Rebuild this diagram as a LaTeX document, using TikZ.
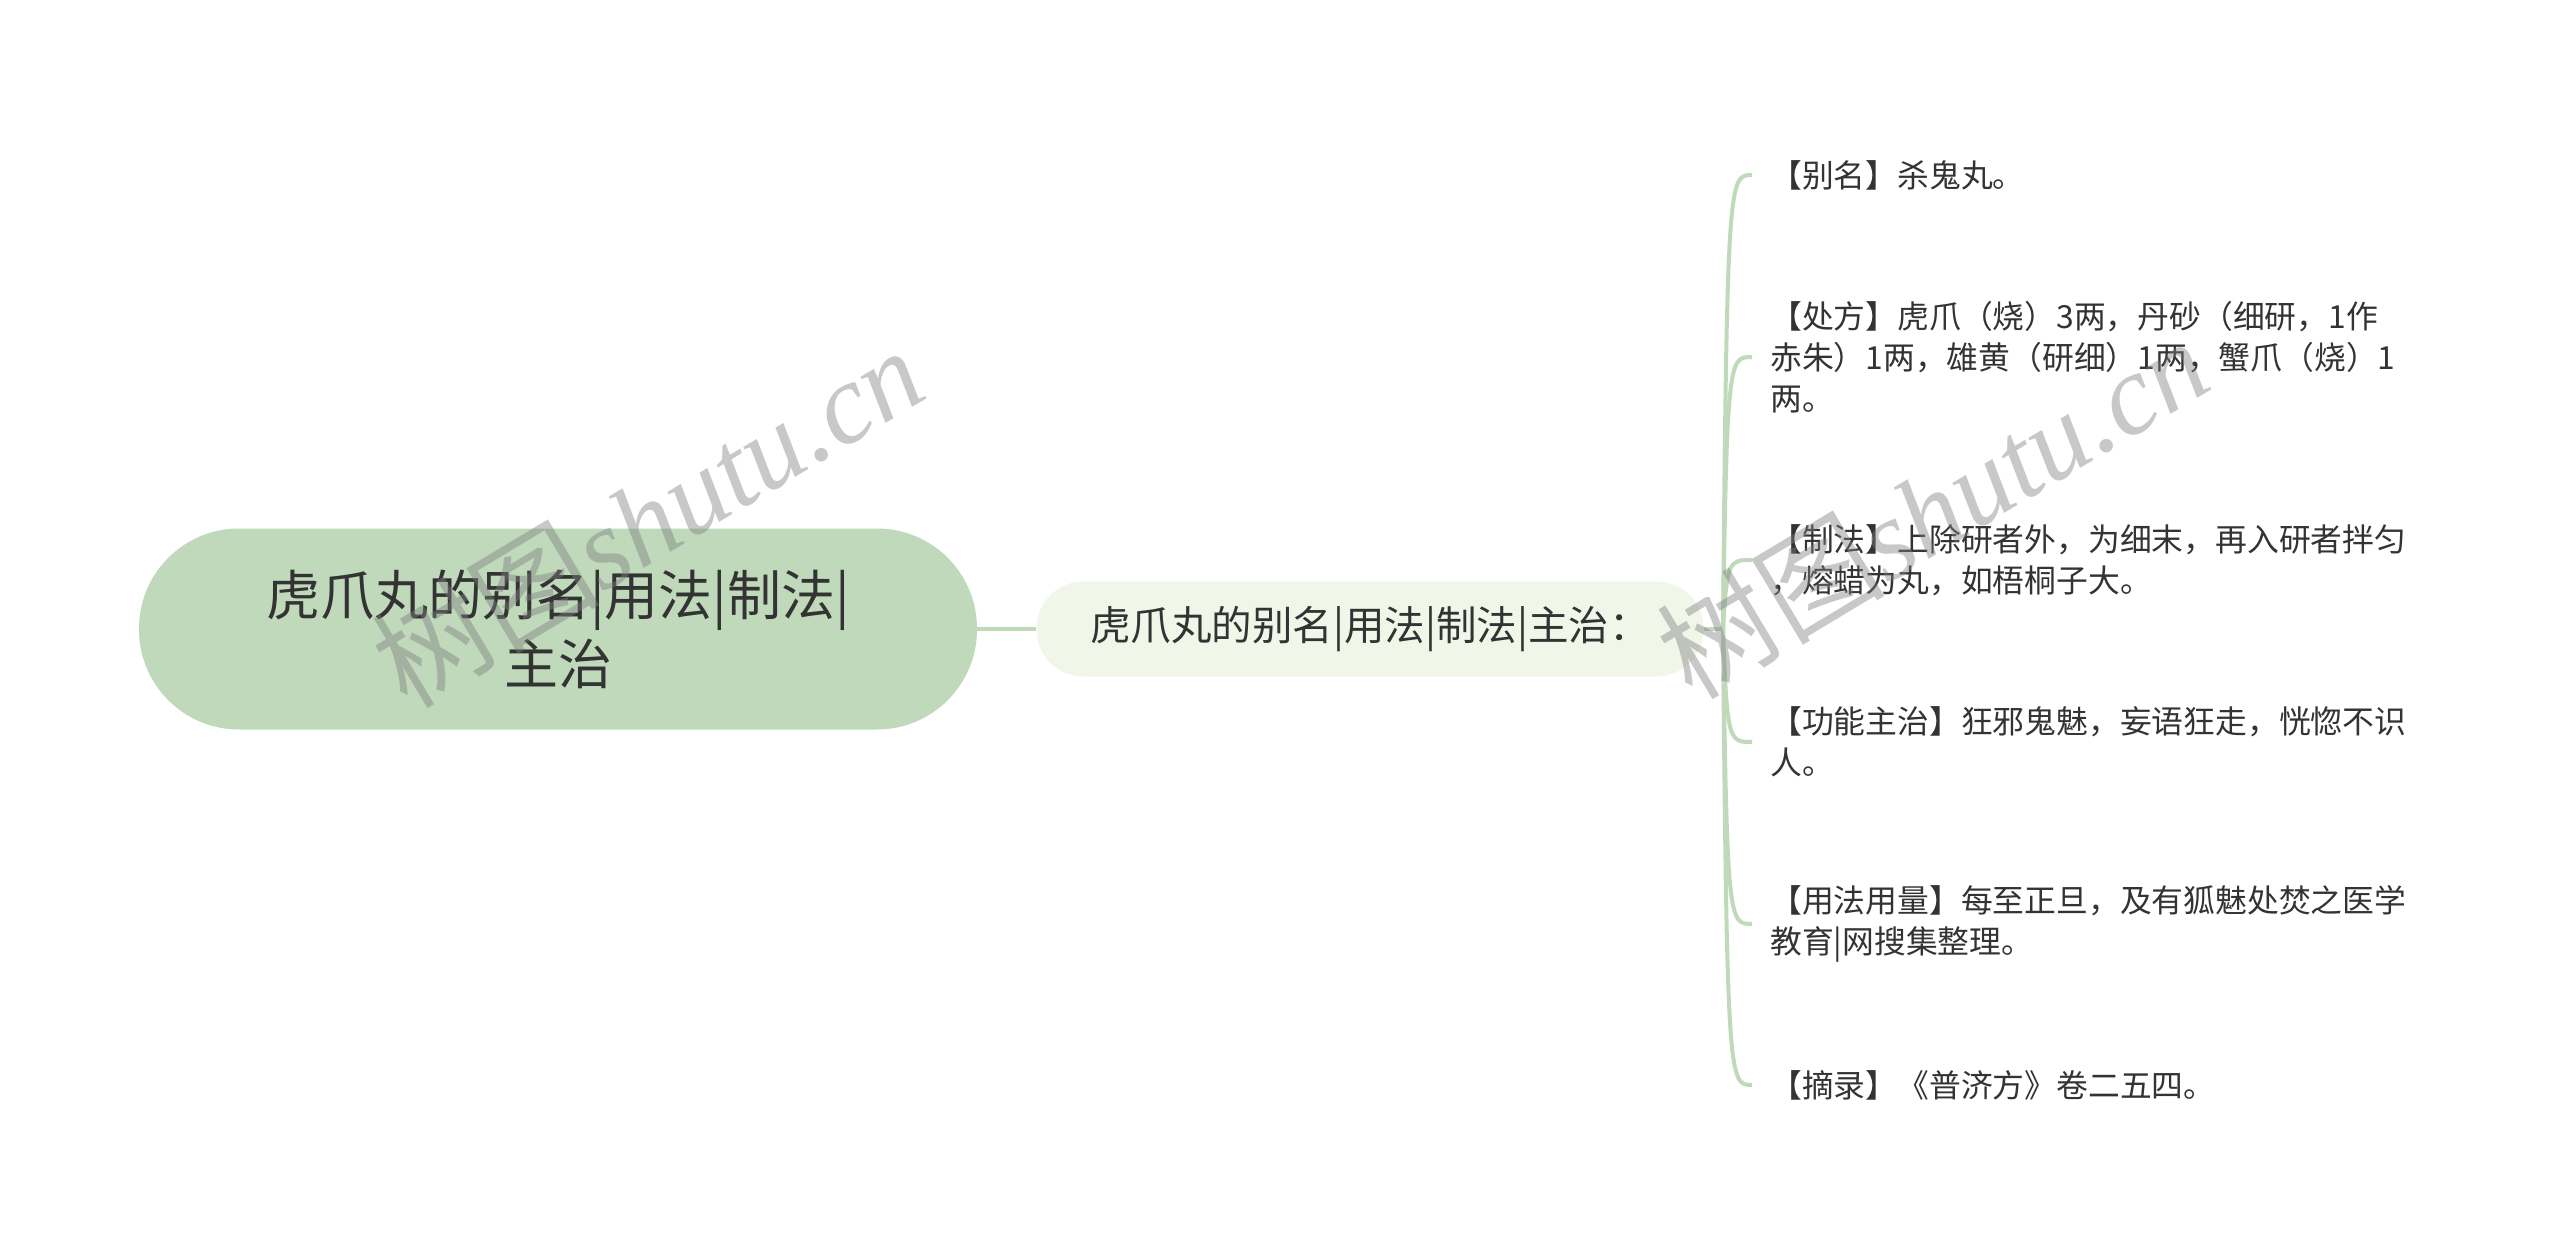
\documentclass[tikz,border=0pt]{standalone}
\usepackage{fontspec}
\setmainfont{Noto Sans CJK SC}
\newfontfamily\wmlatin{Liberation Serif}
\newfontfamily\wmcjk{Noto Sans CJK SC}
\definecolor{rootfill}{HTML}{BFD9BA}
\definecolor{linecol}{HTML}{BFD9BA}
\definecolor{childfill}{HTML}{F0F7E9}
\definecolor{txt}{HTML}{333333}
\begin{document}
\begin{tikzpicture}[x=1pt,y=-1pt,
  rootbox/.style={draw=none, fill=rootfill, rounded corners=100pt, minimum width=838pt, minimum height=201pt, inner sep=0pt, align=center, text=txt, font=\fontsize{54}{69}\selectfont},
  childbox/.style={draw=none, fill=childfill, rounded corners=47pt, minimum width=667pt, minimum height=95pt, inner sep=0pt, text=txt, font=\fontsize{40.5}{46}\selectfont},
  leafbox/.style={anchor=west, inner xsep=18pt, inner ysep=0pt, align=left, text=txt, font=\fontsize{31.8}{41}\selectfont},
  conn/.style={draw=linecol, line width=4pt},
  wm/.style={text=gray, opacity=0.43, font=\fontsize{114}{114}\selectfont}
]
\useasboundingbox (0,0) rectangle (2560,1257);
\fill[white] (0,0) rectangle (2560,1257);

\node[rootbox] (root) at (558,629) {虎爪丸的别名|用法|制法|\\主治};
\node[childbox] (child) at (1370,629) {虎爪丸的别名|用法|制法|主治：};

\coordinate (J) at (1723,629);

\node[leafbox] (l1) at (1752,175) {【别名】杀鬼丸。};
\node[leafbox] (l2) at (1752,357) {【处方】虎爪（烧）3两，丹砂（细研，1作\\赤朱）1两，雄黄（研细）1两，蟹爪（烧）1\\两。};
\node[leafbox] (l3) at (1752,560) {【制法】上除研者外，为细末，再入研者拌匀\\，熔蜡为丸，如梧桐子大。};
\node[leafbox] (l4) at (1752,742) {【功能主治】狂邪鬼魅，妄语狂走，恍惚不识\\人。};
\node[leafbox] (l5) at (1752,924) {【用法用量】每至正旦，及有狐魅处焚之医学\\教育|网搜集整理。};
\node[leafbox] (l6) at (1752,1085) {【摘录】《普济方》卷二五四。};

\draw[conn] (root.east) -- (child.west);
\draw[conn] (child.east) -- (J);
\foreach \l in {l1,l2,l3,l4,l5,l6}{
  \draw[conn] (J) .. controls ([xshift=4pt]J |- \l.west) and ([xshift=6pt]J |- \l.west) .. (\l.west);
}

\node[wm, rotate=31] (w1) at (647,516) {{\wmcjk 树图}{\wmlatin\itshape shutu.cn}};
\node[wm, rotate=31] (w2) at (1932,507) {{\wmcjk 树图}{\wmlatin\itshape shutu.cn}};
\end{tikzpicture}
\end{document}
